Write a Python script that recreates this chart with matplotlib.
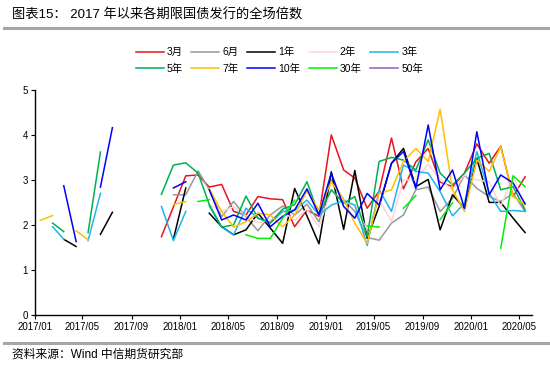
import numpy as np
import pandas as pd
import matplotlib
matplotlib.use('Agg')
import matplotlib.pyplot as plt
import matplotlib.dates as mdates

plt.rcParams['font.family'] = ['Liberation Sans', 'Noto Sans CJK SC']

nan = np.nan

# one point per month, 2017/01 .. 2020/05
dates = pd.date_range('2017-01-01', periods=41, freq='MS') + pd.Timedelta(days=14)

m3 = [nan]*10 + [1.74, 2.40, 3.09, 3.11, 2.84, 2.90, 2.30, 2.22, 2.63, 2.58, 2.56, 1.96, 2.33, 2.19,
                 4.00, 3.22, 3.04, 2.37, 2.75, 3.93, 2.80, 3.40, 3.70, 2.95, 2.85, 3.15, 3.80, 3.37,
                 3.75, 2.63, 3.07]
m6 = [nan]*11 + [2.67, 2.67, 3.20, 2.78, 2.18, 2.52, 2.18, 1.87, 2.22, 2.42, 2.22, 2.46, 2.07, 3.00,
                 2.56, 2.30, 1.72, 1.66, 2.04, 2.22, 2.78, 2.84, 2.30, 2.59, 3.11, 2.81, 2.63, 2.52,
                 2.70, 2.30]
y1 = [nan, nan, 1.68, 1.52, nan, 1.79, 2.28, nan, nan, nan, nan, 1.68, 2.82, nan, 2.26, 1.96, 1.78,
      1.89, 2.26, 1.93, 1.59, 2.81, 2.20, 1.58, 3.18, 1.90, 3.21, 1.70, 2.41, 3.37, 3.70, 2.85, 3.01,
      1.89, 2.67, 2.37, 3.48, 2.50, 2.50, 2.15, 1.83]
y2 = [nan]*14 + [2.45, 2.30, 2.40, 2.20, 2.05, 2.10, 2.30, 2.10, 2.35, 1.96, 2.78, 2.50, 2.44, 1.89,
                 2.56, 2.07, 3.00, 3.00, 3.35, 3.00, 2.78, 3.11, 3.00, 2.96, 2.41, 3.11, 2.35]
y3 = [nan, 1.96, 1.68, nan, 1.65, 2.70, nan, nan, nan, nan, 2.41, 1.65, 2.30, nan, 2.42, 1.95, 1.78,
      2.37, 2.15, 2.04, 2.30, 2.33, 2.55, 2.22, 2.44, 2.54, 2.44, 1.54, 2.78, 2.30, 3.33, 3.19, 3.15,
      2.74, 2.20, 2.48, 3.63, 2.70, 2.30, 2.32, 2.30]
y5 = [nan, 2.04, 1.85, nan, 1.83, 3.62, nan, nan, nan, nan, 2.68, 3.33, 3.38, 3.15, 2.45, 1.95, 2.00,
      2.64, 2.15, 2.05, 2.35, 2.45, 2.96, 2.22, 2.78, 2.48, 2.63, 1.74, 3.41, 3.50, 3.44, 3.22, 3.89,
      3.15, 2.89, 3.15, 3.48, 3.59, 2.78, 2.85, 2.33]
y7 = [2.10, 2.21, nan, 1.87, 1.67, nan, nan, nan, nan, nan, nan, 2.45, 2.52, nan, 2.80, 2.30, 1.95,
      2.07, 2.26, 2.22, 1.96, 2.22, 2.76, 2.33, 2.96, 2.56, 2.04, 1.59, 2.70, 2.78, 3.41, 3.70, 3.41,
      4.57, 2.78, 2.30, 3.44, 3.19, 3.74, 2.63, 2.45]
y10 = [nan, nan, 2.87, 1.63, nan, 2.84, 4.16, nan, nan, nan, nan, 2.82, 2.96, nan, 2.78, 2.11, 2.22,
       2.11, 2.48, 1.96, 2.19, 2.33, 2.80, 2.22, 3.15, 2.41, 2.15, 2.70, 2.44, 3.37, 3.63, 2.81, 4.22,
       2.78, 3.22, 2.37, 4.07, 2.67, 3.11, 2.93, 2.47]
y30 = [nan]*13 + [2.52, 2.56, nan, nan, 1.78, 1.70, 1.70, 2.15, 2.55, nan, nan, nan, nan, nan, 1.98,
                  1.95, nan, 2.37, 2.65, nan, 2.12, 2.49, nan, nan, nan, 1.48, 3.09, 2.85]
y50 = [nan]*41

names = ['3月', '6月', '1年', '2年', '3年', '5年', '7年', '10年', '30年', '50年']
series = [m3, m6, y1, y2, y3, y5, y7, y10, y30, y50]
colors = ['#E8141E', '#999999', '#000000', '#FFD3DA', '#1EB4F0',
          '#00B050', '#FFC000', '#0000FF', '#00F000', '#8E5EC2']

fig = plt.figure(figsize=(5.5, 3.67), dpi=100)
ax = fig.add_axes([0.063, 0.142, 0.904, 0.613])

lines = []
for name, vals, c in zip(names, series, colors):
    ln, = ax.plot(dates, vals, color=c, lw=1.1, label=name)
    lines.append(ln)

ax.set_ylim(0, 5)
ax.set_yticks(range(6))
ax.set_xlim(pd.Timestamp('2017-01-01'), pd.Timestamp('2020-06-01'))
ax.xaxis.set_major_locator(mdates.MonthLocator(bymonth=[1, 5, 9]))
ax.xaxis.set_major_formatter(mdates.DateFormatter('%Y/%m'))
for s in ['top', 'right']:
    ax.spines[s].set_visible(False)
for s in ['left', 'bottom']:
    ax.spines[s].set_linewidth(1.0)
ax.tick_params(labelsize=7, length=3, width=0.8, pad=2)

# legend fills by column, so interleave to get rows like the original
order = [0, 5, 1, 6, 2, 7, 3, 8, 4, 9]
fig.legend([lines[i] for i in order], [names[i] for i in order],
           loc='center', bbox_to_anchor=(0.508, 0.835), ncol=5, frameon=False, fontsize=7.5,
           handlelength=2.7, columnspacing=0.8, handletextpad=0.3, labelspacing=0.6)

fig.text(0.022, 0.958, '图表15： 2017 年以来各期限国债发行的全场倍数', fontsize=9.5,
         va='center', ha='left')
fig.add_artist(plt.Line2D([0.007, 1.0], [0.924, 0.924], color='#A6A6A6', lw=2.2))
fig.add_artist(plt.Line2D([0.007, 1.0], [0.065, 0.065], color='#A6A6A6', lw=2.2))
fig.text(0.022, 0.035, '资料来源：Wind 中信期货研究部', fontsize=8.5, va='center', ha='left')

fig.savefig('out.png', dpi=100)
